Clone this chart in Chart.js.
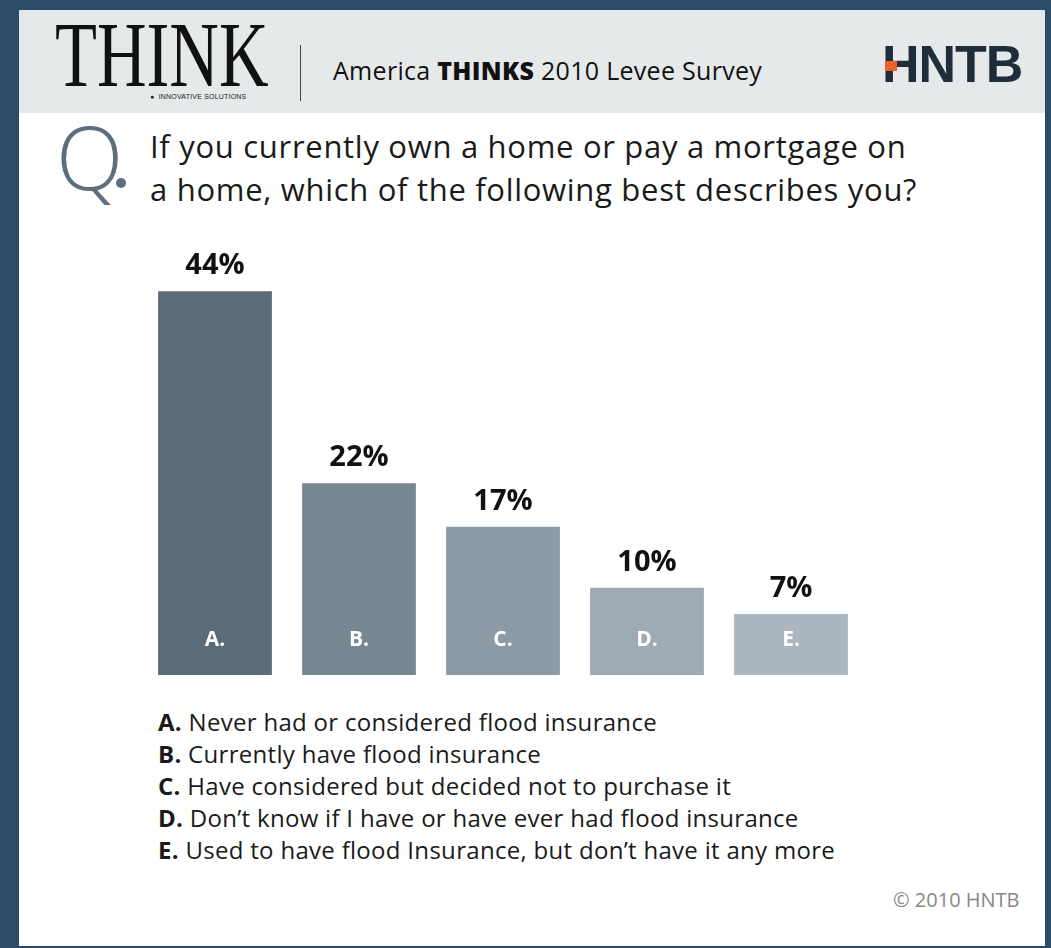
<!DOCTYPE html>
<html><head><meta charset="utf-8">
<script src="https://cdn.jsdelivr.net/npm/chart.js@4.4.1/dist/chart.umd.min.js"></script>
<style>
html,body{margin:0;padding:0;background:#fff;}
#wrap{position:relative;width:1051px;height:948px;overflow:hidden;background:#2c4d6a;}
#inner{position:absolute;left:19px;top:10px;width:1026px;height:936px;background:#fff;}
#hdr{position:absolute;left:19px;top:10px;width:1026px;height:103px;background:#e6e9ea;}
.t{position:absolute;white-space:nowrap;}
canvas{position:absolute;left:0;top:0;}
</style></head><body>
<div id="wrap">
<div id="inner"></div>
<div id="hdr"></div>
<div class="t" style="left:55px;top:4px;font-family:'Liberation Serif';font-size:94px;color:#111;transform:scaleX(0.73);transform-origin:0 0;line-height:100px;">THINK</div>
<div class="t" style="left:150px;top:93px;font-family:'Liberation Sans';font-size:7px;color:#222;letter-spacing:0.2px;">&#9679;&nbsp; INNOVATIVE SOLUTIONS</div>
<div style="position:absolute;left:300px;top:45px;width:1px;height:56px;background:#444;"></div>
<div class="t" style="left:333px;top:55px;font-family:'Open Sans';font-size:25px;color:#111;line-height:30px;letter-spacing:0.3px;">America <b style="font-weight:800">THINKS</b> 2010 Levee Survey</div>
<div class="t" style="left:882px;top:34px;font-family:'Liberation Sans';font-weight:bold;font-size:52px;color:#1f2d3a;line-height:60px;letter-spacing:-1px;">HNTB</div>
<div style="position:absolute;left:885px;top:61px;width:12px;height:10px;background:#e8622a;"></div>
<div class="t" style="left:56px;top:106px;font-family:'Open Sans';font-weight:300;font-size:88px;color:#5d6e7d;line-height:100px;">Q</div>
<div style="position:absolute;left:116px;top:178px;width:10px;height:10px;border-radius:5px;background:#5d6e7d;"></div>
<div class="t" style="left:150px;top:125px;font-family:'Open Sans';font-weight:500;font-size:31px;color:#1a1a1a;line-height:43px;letter-spacing:0.7px;">If you currently own a home or pay a mortgage on<br>a home, which of the following best describes you?</div>
<div class="t" id="legend" style="left:158px;top:706px;font-family:'Open Sans';font-size:24px;color:#1a1a1a;line-height:32px;letter-spacing:0.3px;"></div>
<div class="t" style="left:893px;top:886px;font-family:'Open Sans';font-size:20px;color:#888;line-height:28px;">© 2010 HNTB</div>
<canvas id="c" width="1051" height="948"></canvas>
</div>
<script>
const letters = ['A.', 'B.', 'C.', 'D.', 'E.'];
const descriptions = [
  'Never had or considered flood insurance',
  'Currently have flood insurance',
  'Have considered but decided not to purchase it',
  "Don\u2019t know if I have or have ever had flood insurance",
  "Used to have flood Insurance, but don\u2019t have it any more"
];
const values = [44, 22, 17, 10, 7];
const barColors = ['#5b6b78', '#778893', '#8b9aa5', '#9eaab4', '#abb6be'];

document.getElementById('legend').innerHTML = letters.map((l, i) =>
  '<b style="font-weight:700">' + l + '</b> ' + descriptions[i]).join('<br>');

const labelPlugin = {
  id: 'labels',
  afterDatasetsDraw(chart) {
    const ctx = chart.ctx;
    const meta = chart.getDatasetMeta(0);
    meta.data.forEach((bar, i) => {
      ctx.save();
      ctx.textAlign = 'center';
      ctx.textBaseline = 'alphabetic';
      ctx.fillStyle = '#111';
      ctx.font = 'bold 29px "Open Sans"';
      ctx.fillText(values[i] + '%', bar.x, bar.y - 17);
      ctx.fillStyle = '#fff';
      ctx.font = 'bold 21px "Open Sans"';
      ctx.textBaseline = 'middle';
      ctx.fillText(letters[i], bar.x, 640);
      ctx.restore();
    });
  }
};

new Chart(document.getElementById('c'), {
  type: 'bar',
  data: {
    labels: letters,
    datasets: [{
      data: values,
      backgroundColor: barColors,
      borderWidth: 0,
      barPercentage: 0.79,
      categoryPercentage: 1.0
    }]
  },
  options: {
    responsive: false,
    animation: false,
    layout: { padding: { left: 143, right: 188, top: 239, bottom: 273 } },
    plugins: { legend: { display: false }, tooltip: { enabled: false } },
    scales: {
      x: { display: false },
      y: { display: false, min: 0, max: 50 }
    }
  },
  plugins: [labelPlugin]
});
</script>
</body></html>
